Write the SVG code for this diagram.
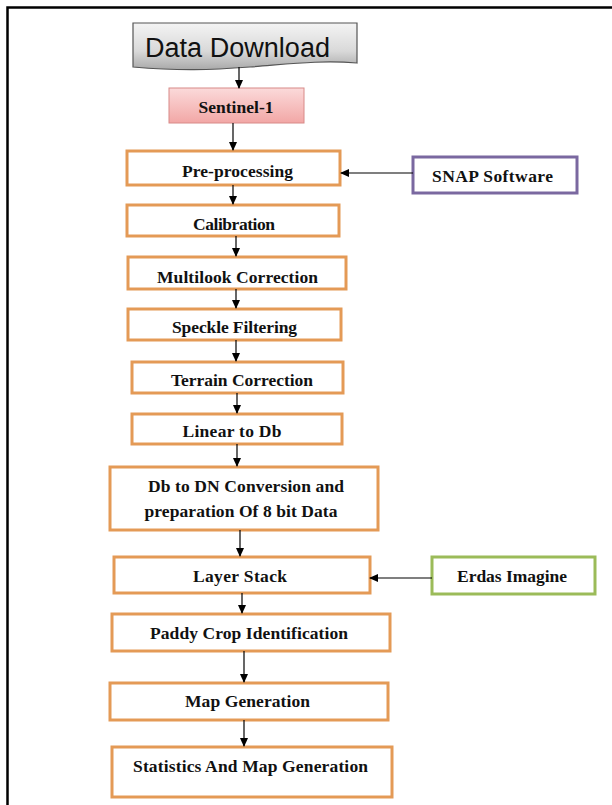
<svg xmlns="http://www.w3.org/2000/svg" width="612" height="805" viewBox="0 0 612 805">
<defs>
<linearGradient id="gSilver" x1="0" y1="0" x2="0" y2="1">
<stop offset="0" stop-color="#f4f4f4"/>
<stop offset="0.6" stop-color="#d9d9d9"/>
<stop offset="1" stop-color="#a9a9a9"/>
</linearGradient>
<linearGradient id="gPink" x1="0" y1="0" x2="0" y2="1">
<stop offset="0" stop-color="#fbdada"/>
<stop offset="1" stop-color="#f2a7a6"/>
</linearGradient>
<marker id="ah" markerWidth="9" markerHeight="8" refX="8" refY="4" orient="auto" markerUnits="userSpaceOnUse">
<path d="M0,0 L9,4 L0,8 Z" fill="#000"/>
</marker>
</defs>
<style>
.box{fill:#fff;stroke:#e49a56;stroke-width:3}
.t{font-family:"Liberation Serif","Times New Roman",serif;font-weight:bold;font-size:17.5px;fill:#111;text-anchor:middle}
.c line{stroke:#000;stroke-width:1.2;marker-end:url(#ah)}
</style>
<rect width="612" height="805" fill="#fff"/>
<path d="M7.5,805 V7.5 H612" fill="none" stroke="#000" stroke-width="2.5"/>

<g id="data-download">
<path d="M133,23 H357 V63 C320,60 290,64 250,67 C210,70 180,71 133,67 Z" fill="url(#gSilver)" stroke="#555" stroke-width="1.2"/>
<text x="237.5" y="57" font-family="Liberation Sans, Arial, sans-serif" font-size="27" fill="#111" text-anchor="middle" textLength="185" lengthAdjust="spacingAndGlyphs">Data Download</text>
</g>

<g id="sentinel">
<rect x="169" y="88" width="135" height="35" fill="url(#gPink)" stroke="#d88a88" stroke-width="1"/>
<text class="t" x="236" y="113" fill="#2b1515" textLength="75" lengthAdjust="spacing">Sentinel-1</text>
</g>

<g id="preprocessing">
<rect class="box" x="127" y="151" width="213" height="34"/>
<text class="t" x="237.5" y="177" textLength="111" lengthAdjust="spacing">Pre-processing</text>
</g>

<g id="calibration">
<rect class="box" x="127" y="205" width="212" height="31"/>
<text class="t" x="234" y="230" textLength="82" lengthAdjust="spacing">Calibration</text>
</g>

<g id="multilook">
<rect class="box" x="128" y="257" width="218" height="32"/>
<text class="t" x="237.5" y="283" textLength="161" lengthAdjust="spacing">Multilook Correction</text>
</g>

<g id="speckle">
<rect class="box" x="128" y="309" width="213" height="31"/>
<text class="t" x="234.5" y="333" textLength="125" lengthAdjust="spacing">Speckle Filtering</text>
</g>

<g id="terrain">
<rect class="box" x="132" y="362" width="211" height="31"/>
<text class="t" x="242" y="386" textLength="142" lengthAdjust="spacing">Terrain Correction</text>
</g>

<g id="linear">
<rect class="box" x="132" y="414" width="210" height="30"/>
<text class="t" x="232" y="437" textLength="99" lengthAdjust="spacing">Linear to Db</text>
</g>

<g id="db-to-dn">
<rect class="box" x="110" y="467" width="268" height="63"/>
<text class="t" x="246" y="492" textLength="196" lengthAdjust="spacing">Db to DN Conversion and</text>
<text class="t" x="241" y="517" textLength="193" lengthAdjust="spacing">preparation Of 8 bit Data</text>
</g>

<g id="layer-stack">
<rect class="box" x="114" y="557" width="256" height="36"/>
<text class="t" x="240" y="582" textLength="94" lengthAdjust="spacing">Layer Stack</text>
</g>

<g id="paddy">
<rect class="box" x="112" y="614" width="278" height="37"/>
<text class="t" x="249" y="639" textLength="198" lengthAdjust="spacing">Paddy Crop Identification</text>
</g>

<g id="map-generation">
<rect class="box" x="110" y="683" width="278" height="37"/>
<text class="t" x="247.5" y="707" textLength="125" lengthAdjust="spacing">Map Generation</text>
</g>

<g id="statistics">
<rect class="box" x="112" y="747" width="280" height="50"/>
<text class="t" x="250.5" y="772" textLength="235" lengthAdjust="spacing">Statistics And Map Generation</text>
</g>

<g id="snap">
<rect x="413" y="157" width="164" height="36" fill="#fff" stroke="#7a68a0" stroke-width="3"/>
<text class="t" x="492.5" y="182" textLength="121" lengthAdjust="spacing">SNAP Software</text>
</g>

<g id="erdas">
<rect x="432" y="557" width="163" height="37" fill="#fff" stroke="#9bbb59" stroke-width="3"/>
<text class="t" x="512" y="582" textLength="110" lengthAdjust="spacing">Erdas Imagine</text>
</g>

<g id="connectors" class="c">
<line x1="239" y1="67" x2="239" y2="88"/>
<line x1="233" y1="123" x2="233" y2="150"/>
<line x1="233" y1="185" x2="233" y2="204"/>
<line x1="236" y1="236" x2="236" y2="256"/>
<line x1="236" y1="289" x2="236" y2="308"/>
<line x1="236" y1="340" x2="236" y2="361"/>
<line x1="237" y1="393" x2="237" y2="413"/>
<line x1="237" y1="444" x2="237" y2="466"/>
<line x1="240" y1="530" x2="240" y2="556"/>
<line x1="242" y1="593" x2="242" y2="613"/>
<line x1="244" y1="651" x2="244" y2="682"/>
<line x1="244" y1="720" x2="244" y2="746"/>
<line x1="413" y1="173" x2="341" y2="173"/>
<line x1="432" y1="578" x2="370" y2="578"/>
</g>
</svg>
